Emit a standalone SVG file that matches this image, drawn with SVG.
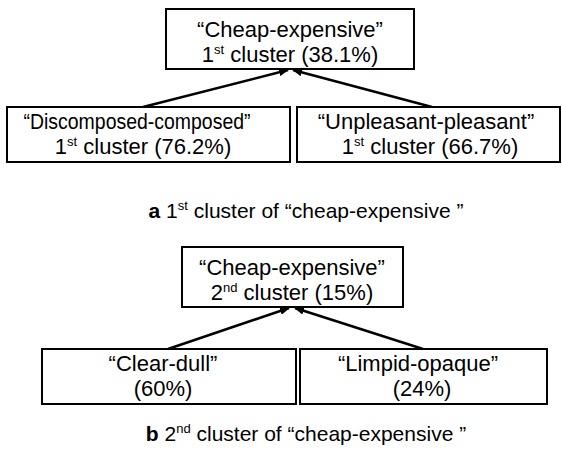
<svg xmlns="http://www.w3.org/2000/svg" width="562" height="459" viewBox="0 0 562 459">
<style>
.box{fill:#fff;stroke:#000;stroke-width:2}
.t{font-family:"Liberation Sans",Arial,sans-serif;font-size:22px;fill:#000;text-anchor:middle}
.cap{font-family:"Liberation Sans",Arial,sans-serif;font-size:21px;fill:#000;text-anchor:middle}
.sup{font-size:13px}
.edge{stroke:#000;stroke-width:2.5;fill:none;marker-end:url(#ah)}
</style>
<defs>
<marker id="ah" viewBox="0 0 10 8" refX="9" refY="4" markerWidth="10" markerHeight="8" markerUnits="userSpaceOnUse" orient="auto">
<path d="M0,0 L10,4 L0,8 Z" fill="#000"/>
</marker>
</defs>
<rect width="562" height="459" fill="#fff"/>
<g id="connectors">
<line class="edge" x1="143" y1="107" x2="288" y2="70"/>
<line class="edge" x1="432" y1="107" x2="293" y2="70"/>
<line class="edge" x1="168" y1="349" x2="289" y2="308"/>
<line class="edge" x1="423" y1="349" x2="295" y2="308"/>
</g>
<g id="a-top">
<rect class="box" x="166" y="9" width="248" height="60"/>
<text class="t" x="290" y="37">“Cheap-expensive”</text>
<text class="t" x="290" y="62">1<tspan class="sup" dy="-8">st</tspan><tspan dy="8"> cluster (38.1%)</tspan></text>
</g>
<g id="a-left">
<rect class="box" x="7" y="107" width="283" height="55"/>
<text class="t" x="137" y="129" textLength="227" lengthAdjust="spacingAndGlyphs">“Discomposed-composed”</text>
<text class="t" x="143" y="154">1<tspan class="sup" dy="-8">st</tspan><tspan dy="8"> cluster (76.2%)</tspan></text>
</g>
<g id="a-right">
<rect class="box" x="297" y="107" width="263" height="55"/>
<text class="t" x="426" y="129">“Unpleasant-pleasant”</text>
<text class="t" x="430" y="154">1<tspan class="sup" dy="-8">st</tspan><tspan dy="8"> cluster (66.7%)</tspan></text>
</g>
<g id="a-caption">
<text class="cap" x="306" y="218"><tspan font-weight="bold">a</tspan> 1<tspan class="sup" dy="-8">st</tspan><tspan dy="8"> cluster of “cheap-expensive ”</tspan></text>
</g>
<g id="b-top">
<rect class="box" x="182" y="247" width="221" height="60"/>
<text class="t" x="292" y="275">“Cheap-expensive”</text>
<text class="t" x="292" y="300">2<tspan class="sup" dy="-8">nd</tspan><tspan dy="8"> cluster (15%)</tspan></text>
</g>
<g id="b-left">
<rect class="box" x="42" y="349" width="254" height="55"/>
<text class="t" x="163" y="371">“Clear-dull”</text>
<text class="t" x="163" y="396">(60%)</text>
</g>
<g id="b-right">
<rect class="box" x="300" y="349" width="247" height="55"/>
<text class="t" x="418" y="371">“Limpid-opaque”</text>
<text class="t" x="422" y="396">(24%)</text>
</g>
<g id="b-caption">
<text class="cap" x="306" y="441"><tspan font-weight="bold">b</tspan> 2<tspan class="sup" dy="-8">nd</tspan><tspan dy="8"> cluster of “cheap-expensive ”</tspan></text>
</g>
</svg>
